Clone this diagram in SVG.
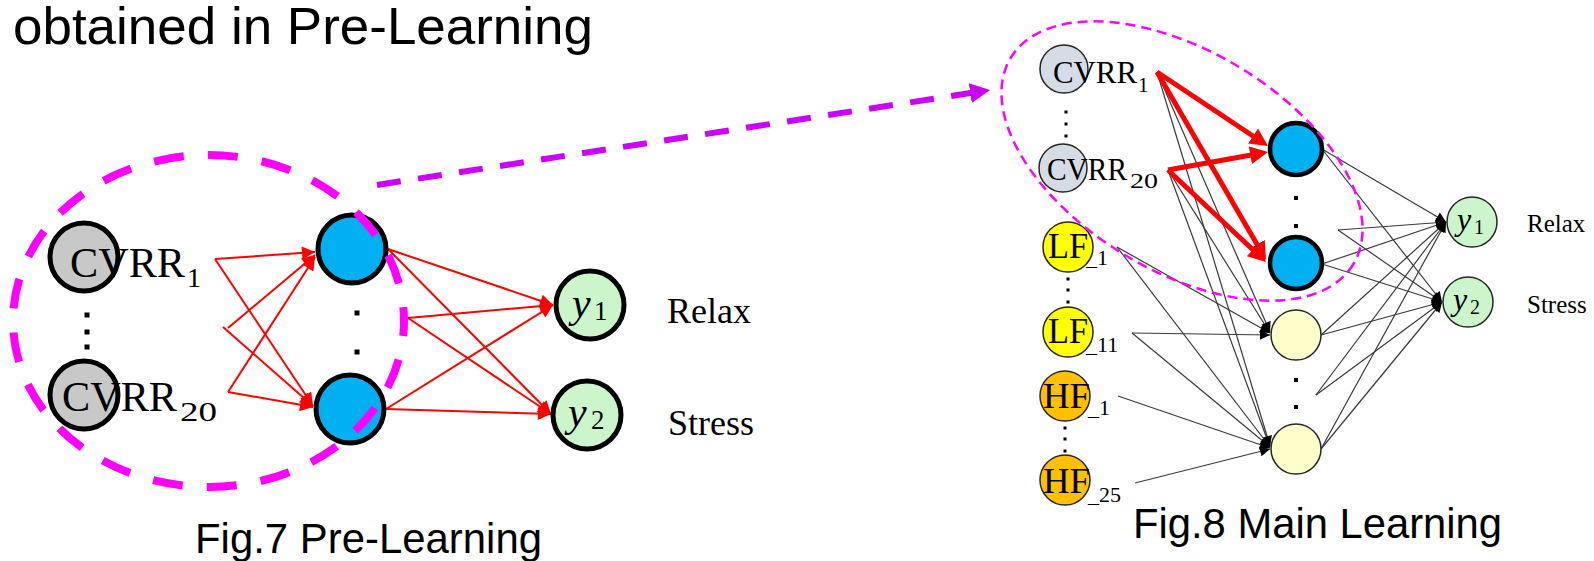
<svg xmlns="http://www.w3.org/2000/svg" width="1594" height="561" viewBox="0 0 1594 561">
<style>
.sans{font-family:"Liberation Sans",Arial,sans-serif;fill:#000}
.ser{font-family:"Liberation Serif","Times New Roman",serif;fill:#000}
.it{font-style:italic}
.red{stroke:#FF0000;stroke-width:2;fill:none;marker-end:url(#arRed)}
.redT{stroke:#FF0000;stroke-width:5;fill:none;marker-end:url(#arRedT)}
.blk{stroke:#3a3a3a;stroke-width:1.2;fill:none;marker-end:url(#arBlk)}
.bigN{stroke:#000;stroke-width:5}
.smN{stroke:#262626;stroke-width:1.5}
.blue{fill:#00B0F0}
.gray{fill:#C8C8C8}
.green{fill:#CCF5CC}
.cv{fill:#D6DCE5}
.lf{fill:#FFFF00}
.hf{fill:#FFC000}
.pale{fill:#FFFFCC}
.dot{fill:#000}
</style>
<defs>
<marker id="arRed" viewBox="0 0 10 10" refX="10" refY="5" markerWidth="16" markerHeight="13" markerUnits="userSpaceOnUse" orient="auto"><path d="M0,0 L10,5 L0,10 z" fill="#FF0000"/></marker>
<marker id="arRedT" viewBox="0 0 10 10" refX="4.44" refY="5" markerWidth="18" markerHeight="18" markerUnits="userSpaceOnUse" orient="auto"><path d="M0,0 L10,5 L0,10 z" fill="#FF0000"/></marker>
<marker id="arBlk" viewBox="0 0 10 10" refX="10" refY="5" markerWidth="11" markerHeight="10" markerUnits="userSpaceOnUse" orient="auto"><path d="M0,0 L10,5 L0,10 z" fill="#000"/></marker>
<marker id="arPur" viewBox="0 0 10 10" refX="3" refY="5" markerWidth="20" markerHeight="20" markerUnits="userSpaceOnUse" orient="auto"><path d="M0,0 L10,5 L0,10 z" fill="#CC00FF"/></marker>
</defs>
<rect width="1594" height="561" fill="#fff"/>

<text class="sans" x="13" y="44" font-size="52" textLength="580" lengthAdjust="spacingAndGlyphs">obtained in Pre-Learning</text>

<g id="connectors">
  <!-- Fig.7 left layer -->
  <line class="red" x1="215" y1="259" x2="315" y2="252"/>
  <line class="red" x1="215" y1="259" x2="313" y2="406"/>
  <line class="red" x1="228" y1="328" x2="315" y2="255"/>
  <line class="red" x1="223" y1="327" x2="313" y2="406"/>
  <line class="red" x1="228" y1="392" x2="315" y2="257"/>
  <line class="red" x1="228" y1="392" x2="313" y2="407"/>
  <!-- Fig.7 right layer -->
  <line class="red" x1="388" y1="249" x2="553" y2="305"/>
  <line class="red" x1="388" y1="249" x2="551" y2="414"/>
  <line class="red" x1="408" y1="318" x2="553" y2="305"/>
  <line class="red" x1="408" y1="318" x2="551" y2="414"/>
  <line class="red" x1="386" y1="409" x2="553" y2="305"/>
  <line class="red" x1="386" y1="409" x2="551" y2="414"/>
  <!-- transfer arrow -->
  <line x1="377" y1="185" x2="976.2" y2="92.1" stroke="#CC00FF" stroke-width="6" stroke-dasharray="24 17.5" marker-end="url(#arPur)"/>
  <!-- Fig.8 inputs to pale hidden -->
  <line class="blk" x1="1157" y1="72" x2="1270" y2="332"/>
  <line class="blk" x1="1157" y1="72" x2="1270" y2="446"/>
  <line class="blk" x1="1168" y1="170" x2="1270" y2="333"/>
  <line class="blk" x1="1168" y1="170" x2="1270" y2="447"/>
  <line class="blk" x1="1117" y1="247" x2="1270" y2="333"/>
  <line class="blk" x1="1117" y1="247" x2="1270" y2="447"/>
  <line class="blk" x1="1132" y1="333" x2="1270" y2="335"/>
  <line class="blk" x1="1132" y1="333" x2="1270" y2="447"/>
  <line class="blk" x1="1118" y1="396" x2="1270" y2="448"/>
  <line class="blk" x1="1135" y1="483" x2="1270" y2="449"/>
  <!-- Fig.8 hidden to output -->
  <line class="blk" x1="1322" y1="149" x2="1446" y2="222"/>
  <line class="blk" x1="1322" y1="149" x2="1442" y2="302"/>
  <line class="blk" x1="1338" y1="230" x2="1446" y2="222"/>
  <line class="blk" x1="1338" y1="230" x2="1442" y2="302"/>
  <line class="blk" x1="1322" y1="264" x2="1446" y2="222"/>
  <line class="blk" x1="1322" y1="264" x2="1442" y2="302"/>
  <line class="blk" x1="1321" y1="335" x2="1446" y2="222"/>
  <line class="blk" x1="1321" y1="335" x2="1442" y2="302"/>
  <line class="blk" x1="1316" y1="395" x2="1446" y2="222"/>
  <line class="blk" x1="1316" y1="395" x2="1442" y2="302"/>
  <line class="blk" x1="1321" y1="449" x2="1446" y2="222"/>
  <line class="blk" x1="1321" y1="449" x2="1442" y2="302"/>
  <!-- Fig.8 transferred weights -->
  <line class="redT" x1="1157" y1="72" x2="1259.7" y2="140.5"/>
  <line class="redT" x1="1157" y1="72" x2="1261" y2="251.3"/>
  <line class="redT" x1="1168" y1="170" x2="1258.2" y2="153.8"/>
  <line class="redT" x1="1168" y1="170" x2="1258.7" y2="255.2"/>
</g>

<!-- Fig.7 nodes -->
<g id="f7-cvrr1">
  <circle class="gray bigN" cx="84" cy="257" r="34"/>
  <text class="ser" x="70" y="277" font-size="43" textLength="115" lengthAdjust="spacingAndGlyphs">CVRR</text>
  <text class="ser" x="187" y="287" font-size="28">1</text>
</g>
<g id="f7-cvrr-dots">
  <rect class="dot" x="84.5" y="312.5" width="5" height="5"/>
  <rect class="dot" x="84.5" y="329.5" width="5" height="5"/>
  <rect class="dot" x="84.5" y="344.5" width="5" height="5"/>
</g>
<g id="f7-cvrr20">
  <circle class="gray bigN" cx="84" cy="395" r="34"/>
  <text class="ser" x="62" y="411" font-size="43" textLength="115" lengthAdjust="spacingAndGlyphs">CVRR</text>
  <text class="ser" x="180" y="421" font-size="28" textLength="37" lengthAdjust="spacingAndGlyphs">20</text>
</g>
<g id="f7-h1"><circle class="blue bigN" cx="352" cy="249" r="34"/></g>
<g id="f7-h-dots">
  <rect class="dot" x="354.5" y="310.5" width="5" height="5"/>
  <rect class="dot" x="354.5" y="349.5" width="5" height="5"/>
</g>
<g id="f7-h2"><circle class="blue bigN" cx="350" cy="409" r="34"/></g>
<g id="f7-y1">
  <circle class="green bigN" cx="590" cy="305" r="34"/>
  <text class="ser it" x="572" y="317" font-size="42">y</text>
  <text class="ser" x="594" y="320" font-size="27">1</text>
</g>
<g id="f7-y2">
  <circle class="green bigN" cx="587" cy="415" r="34"/>
  <text class="ser it" x="568" y="426" font-size="42">y</text>
  <text class="ser" x="591" y="429" font-size="27">2</text>
</g>
<text class="ser" x="667" y="323" font-size="36">Relax</text>
<text class="ser" x="668" y="435" font-size="36">Stress</text>

<!-- Fig.8 nodes -->
<g id="f8-cvrr1">
  <circle class="cv smN" cx="1064" cy="69" r="24"/>
  <text class="ser" x="1053" y="83" font-size="32" textLength="84" lengthAdjust="spacingAndGlyphs">CVRR</text>
  <text class="ser" x="1138" y="92" font-size="21">1</text>
</g>
<g id="f8-cvrr-dots">
  <rect class="dot" x="1064.5" y="110.5" width="3" height="3"/>
  <rect class="dot" x="1064.5" y="122.5" width="3" height="3"/>
  <rect class="dot" x="1064.5" y="134.5" width="3" height="3"/>
</g>
<g id="f8-cvrr20">
  <circle class="cv smN" cx="1063" cy="168" r="24"/>
  <text class="ser" x="1047" y="180" font-size="32" textLength="80" lengthAdjust="spacingAndGlyphs">CVRR</text>
  <text class="ser" x="1130" y="188" font-size="21" textLength="28" lengthAdjust="spacingAndGlyphs">20</text>
</g>
<g id="f8-lf1">
  <circle class="lf smN" cx="1068" cy="247" r="25"/>
  <text class="ser" x="1048" y="258" font-size="36" textLength="40" lengthAdjust="spacingAndGlyphs">LF</text>
  <text class="ser" x="1086" y="265" font-size="22">_1</text>
</g>
<g id="f8-lf-dots">
  <rect class="dot" x="1066.5" y="277.5" width="3" height="3"/>
  <rect class="dot" x="1066.5" y="288.5" width="3" height="3"/>
  <rect class="dot" x="1066.5" y="300.5" width="3" height="3"/>
</g>
<g id="f8-lf11">
  <circle class="lf smN" cx="1068" cy="332" r="25"/>
  <text class="ser" x="1048" y="343" font-size="36" textLength="40" lengthAdjust="spacingAndGlyphs">LF</text>
  <text class="ser" x="1086" y="352" font-size="22">_11</text>
</g>
<g id="f8-hf1">
  <circle class="hf smN" cx="1065" cy="396" r="25"/>
  <text class="ser" x="1043" y="408" font-size="36" textLength="47" lengthAdjust="spacingAndGlyphs">HF</text>
  <text class="ser" x="1088" y="415" font-size="22">_1</text>
</g>
<g id="f8-hf-dots">
  <rect class="dot" x="1063.5" y="426.5" width="3" height="3"/>
  <rect class="dot" x="1063.5" y="437.5" width="3" height="3"/>
  <rect class="dot" x="1063.5" y="449.5" width="3" height="3"/>
</g>
<g id="f8-hf25">
  <circle class="hf smN" cx="1065" cy="480" r="25"/>
  <text class="ser" x="1043" y="493" font-size="36" textLength="47" lengthAdjust="spacingAndGlyphs">HF</text>
  <text class="ser" x="1088" y="502" font-size="22">_25</text>
</g>
<g id="f8-h1"><circle class="blue" cx="1296" cy="149" r="26" stroke="#000" stroke-width="4.5"/></g>
<g id="f8-h-dots">
  <rect class="dot" x="1294" y="196" width="4" height="4"/>
  <rect class="dot" x="1294" y="224" width="4" height="4"/>
</g>
<g id="f8-h2"><circle class="blue" cx="1296" cy="263" r="26" stroke="#000" stroke-width="4.5"/></g>
<g id="f8-p1"><circle class="pale smN" cx="1296" cy="335" r="25"/></g>
<g id="f8-p-dots">
  <rect class="dot" x="1294" y="378" width="4" height="4"/>
  <rect class="dot" x="1294" y="405" width="4" height="4"/>
</g>
<g id="f8-p2"><circle class="pale smN" cx="1296" cy="449" r="25"/></g>
<g id="f8-y1">
  <circle class="green smN" cx="1472" cy="222" r="25"/>
  <text class="ser it" x="1457" y="230" font-size="32">y</text>
  <text class="ser" x="1474" y="234" font-size="20">1</text>
</g>
<g id="f8-y2">
  <circle class="green smN" cx="1468" cy="302" r="25"/>
  <text class="ser it" x="1453" y="310" font-size="32">y</text>
  <text class="ser" x="1470" y="314" font-size="20">2</text>
</g>
<text class="ser" x="1527" y="232" font-size="25">Relax</text>
<text class="ser" x="1527" y="313" font-size="25">Stress</text>

<!-- groupings -->
<g id="groupings" fill="none" stroke="#FF00FF">
  <ellipse cx="208.5" cy="321" rx="195.5" ry="166" stroke-width="8" stroke-dasharray="30 24.2" stroke-dashoffset="15"/>
  <ellipse cx="1182" cy="161" rx="200" ry="110" transform="rotate(31 1182 161)" stroke-width="2.5" stroke-dasharray="10 6"/>
</g>

<text class="sans" x="195" y="553" font-size="42" textLength="347" lengthAdjust="spacingAndGlyphs">Fig.7 Pre-Learning</text>
<text class="sans" x="1133" y="538" font-size="42" textLength="369" lengthAdjust="spacingAndGlyphs">Fig.8 Main Learning</text>
</svg>
